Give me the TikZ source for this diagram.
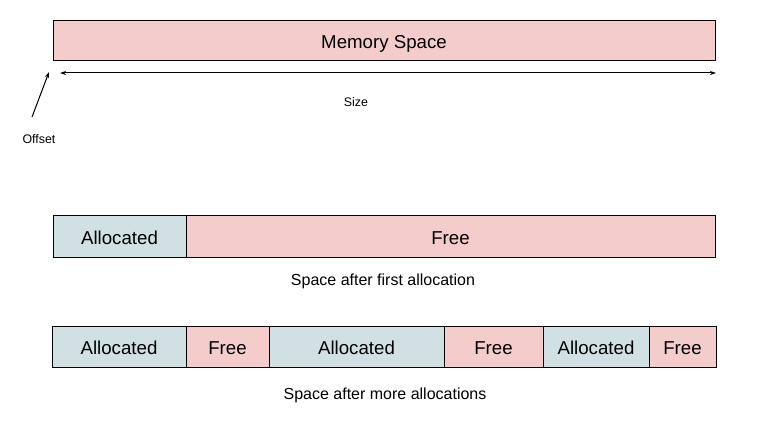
\documentclass[tikz,border=0pt]{standalone}
\usepackage{xcolor}
\usepackage{fontspec}
\setmainfont{Liberation Sans}
\usepackage{tikz}
\usetikzlibrary{arrows.meta}

\definecolor{freepink}{HTML}{F4CCCC}
\definecolor{allocblue}{HTML}{D0E0E3}

\begin{document}
\begin{tikzpicture}[x=1pt, y=-1pt, >={Stealth[length=6pt,width=4pt]},
		block/.style={draw=black, line width=1pt, inner sep=0pt, minimum height=41pt, text height=18pt, text depth=3pt, font=\fontsize{18.67}{20}\selectfont},
		freeblk/.style={block, fill=freepink},
		allocblk/.style={block, fill=allocblue},
		caption/.style={inner sep=0pt, font=\fontsize{16}{18}\selectfont},
		small/.style={inner sep=0pt, font=\fontsize{12.4}{14}\selectfont}]
				\useasboundingbox (0,0) rectangle (778,430);
				% whole memory
				\node (memory) at (384,41) [freeblk, minimum width=662pt, minimum height=40pt] {Memory Space};
				\coordinate (sizeL) at (60,73);
				\coordinate (sizeR) at (716,73);
				\node (size) at (356,102.5) [small] {Size};
				\coordinate (offtail) at (32,117);
				\coordinate (offtip) at (49,72);
				\node (offset) at (39,139.5) [small] {Offset};
				
				% first allocation
				\node (a1) at (119.5,236.5) [allocblk, minimum width=133pt] {Allocated};
				\node (f1) at (450.5,236.5) [freeblk, minimum width=529pt] {Free};
				\node (cap1) at (383,281) [caption] {Space after first allocation};
				
				% more allocations
				\node (a2) at (119,346.5) [allocblk, minimum width=134pt] {Allocated};
				\node (f2) at (227.5,346.5) [freeblk, minimum width=83pt] {Free};
				\node (a3) at (356.5,346.5) [allocblk, minimum width=175pt] {Allocated};
				\node (f3) at (493.5,346.5) [freeblk, minimum width=99pt] {Free};
				\node (a4) at (596,346.5) [allocblk, minimum width=106pt] {Allocated};
				\node (f4) at (682.5,346.5) [freeblk, minimum width=67pt] {Free};
				\node (cap2) at (385,395) [caption] {Space after more allocations};
				
				\draw[<->, line width=1pt] (sizeL) -- (sizeR);
				\draw[->, line width=1pt] (offtail) -- (offtip);
			\end{tikzpicture}
\end{document}
